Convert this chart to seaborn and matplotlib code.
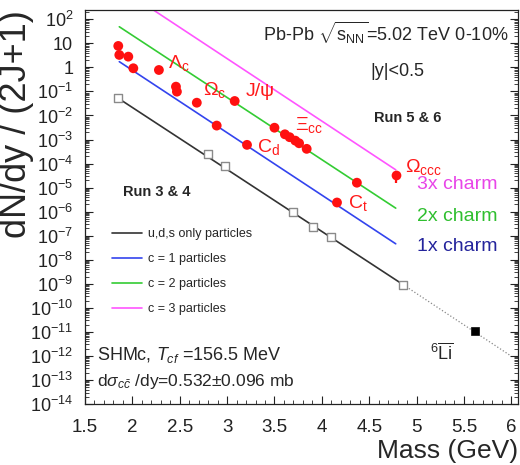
import numpy as np
import pandas as pd
import matplotlib
matplotlib.use("Agg")
import matplotlib.pyplot as plt
from matplotlib.ticker import MultipleLocator, LogLocator, FuncFormatter, NullFormatter
import seaborn as sns

# open-charm / charmonium / multi-charm hadrons (red dots)
charm_mass = [1.851, 1.862, 1.957, 2.01, 2.28, 2.46, 2.47, 2.68, 2.89, 3.08,
              3.21, 3.50, 3.61, 3.66, 3.72, 3.76, 3.84, 4.16, 4.37]
charm_yield = [7.8, 3.3, 2.8, 0.92, 0.78, 0.158, 0.098, 0.034, 0.0038, 0.040,
               6.0e-4, 3.1e-3, 1.65e-3, 1.25e-3, 9.0e-4, 7.0e-4, 4.1e-4, 2.4e-6, 1.6e-5]

# Omega_ccc with its error bar
occc_mass = [4.78]
occc_yield = [3.4e-5]
occc_err_lo = [1.9e-5]
occc_err_hi = [0.6e-5]

# light-flavour (u,d,s) nuclei, open squares
light_mass = [1.851, 2.80, 2.98, 3.70, 3.91, 4.10, 4.86]
light_yield = [0.052, 2.5e-4, 7.9e-5, 1.0e-6, 2.4e-7, 8.9e-8, 9.1e-10]

# anti-6Li, filled square
li6_mass = [5.62]
li6_yield = [1.05e-11]

# model lines (end points)
uds_mass = [1.851, 4.86]
uds_yield = [0.052, 9.1e-10]
uds_ext_mass = [4.86, 5.98]
uds_ext_yield = [9.1e-10, 1.1e-12]
c1_mass = [1.862, 4.78]
c1_yield = [1.73, 4.6e-8]
c2_mass = [1.862, 4.78]
c2_yield = [49.0, 1.4e-6]
c3_mass = [1.862, 4.78]
c3_yield = [2100.0, 5.5e-5]

sns.set_theme(style="ticks")
plt.rcParams['font.family'] = ['Liberation Sans', 'DejaVu Sans']
plt.rcParams['mathtext.fontset'] = 'custom'
plt.rcParams['mathtext.rm'] = 'Liberation Sans'
plt.rcParams['mathtext.it'] = 'Liberation Sans:italic'
plt.rcParams['mathtext.bf'] = 'Liberation Sans:bold'

fig, ax = plt.subplots(figsize=(5.2, 4.65), dpi=100)
fig.subplots_adjust(left=0.1635, right=0.996, bottom=0.1312, top=0.9785)
ax.set_yscale('log')

sns.lineplot(x=uds_mass, y=uds_yield, ax=ax, color='#333333', lw=1.2, label='u,d,s only particles')
sns.lineplot(x=c1_mass, y=c1_yield, ax=ax, color='#3344ee', lw=1.2, label='c = 1 particles')
sns.lineplot(x=c2_mass, y=c2_yield, ax=ax, color='#33cc33', lw=1.2, label='c = 2 particles')
sns.lineplot(x=c3_mass, y=c3_yield, ax=ax, color='#ff55ff', lw=1.2, label='c = 3 particles')
sns.lineplot(x=uds_ext_mass, y=uds_ext_yield, ax=ax, color='#888888', lw=0.9,
             linestyle=':', legend=False)

sns.scatterplot(x=light_mass, y=light_yield, ax=ax, marker='s', s=34, facecolor='white',
                edgecolor='#8a8a8a', linewidth=1.0, zorder=4, legend=False)
sns.scatterplot(x=li6_mass, y=li6_yield, ax=ax, marker='s', s=34, color='black',
                edgecolor='black', zorder=4, legend=False)
sns.scatterplot(x=charm_mass, y=charm_yield, ax=ax, s=50, color='#ff1010',
                edgecolor='none', zorder=5, legend=False)
ax.errorbar(occc_mass, occc_yield, yerr=[occc_err_lo, occc_err_hi], fmt='o', ms=7.0,
            color='#ff1010', mec='none', elinewidth=1.6, capsize=0, zorder=5)

ax.set_xlim(1.5, 6.07)
ax.set_ylim(1e-14, 244)
ax.xaxis.set_major_locator(MultipleLocator(0.5))
ax.xaxis.set_minor_locator(MultipleLocator(0.1))
ax.xaxis.set_major_formatter(FuncFormatter(lambda v, p: '%g' % v))
ax.yaxis.set_major_locator(LogLocator(base=10, numticks=40))
ax.yaxis.set_minor_locator(LogLocator(base=10, subs=np.arange(2, 10), numticks=40))
ax.yaxis.set_minor_formatter(NullFormatter())


def ylab(v, p):
    n = int(round(np.log10(v)))
    if n == 0:
        return '1'
    if n == 1:
        return '10'
    return r'$10^{%d}$' % n


ax.yaxis.set_major_formatter(FuncFormatter(ylab))
ax.tick_params(which='both', direction='in', right=True, top=False, colors='#222222')
ax.tick_params(which='major', length=6, width=0.8, labelsize=13.5, pad=6)
ax.tick_params(axis='y', which='major', labelsize=13, pad=8.5)
ax.tick_params(axis='x', which='major', pad=10.5)
ax.tick_params(which='minor', length=3, width=0.6)
for s in ax.spines.values():
    s.set_linewidth(0.9)
    s.set_color('#222222')

ax.set_xlabel('Mass (GeV)', fontsize=19, loc='right')
ax.xaxis.set_label_coords(1.0, -0.088)
ax.set_ylabel('dN/dy / (2J+1)', fontsize=26, loc='top')
ax.yaxis.set_label_coords(-0.118, 1.0)

ax.legend(loc='upper left', bbox_to_anchor=(0.062, 0.447), frameon=False, fontsize=9,
          handlelength=2.4, labelspacing=1.05, handletextpad=0.5,
          borderaxespad=0, borderpad=0)

tr = ax.transAxes
ax.text(0.411, 0.942, r'Pb-Pb $\sqrt{\mathrm{s}_{\rm NN}}$=5.02 TeV 0-10%', transform=tr,
        fontsize=13, ha='left', va='center')
ax.text(0.721, 0.843, '|y|<0.5', transform=tr, fontsize=13, ha='center', va='center')
ax.text(0.746, 0.726, 'Run 5 & 6', transform=tr, fontsize=10.5, fontweight='bold',
        ha='center', va='center')
ax.text(0.088, 0.538, 'Run 3 & 4', transform=tr, fontsize=10.5, fontweight='bold',
        ha='left', va='center')
ax.text(0.861, 0.556, '3x charm', transform=tr, fontsize=14, color='#e845e8',
        ha='center', va='center')
ax.text(0.861, 0.475, '2x charm', transform=tr, fontsize=14, color='#2fbf2f',
        ha='center', va='center')
ax.text(0.861, 0.400, '1x charm', transform=tr, fontsize=14, color='#24249c',
        ha='center', va='center')
ax.text(0.028, 0.124, r'SHMc, $T_{cf}$ =156.5 MeV', transform=tr, fontsize=13,
        ha='left', va='center')
ax.text(0.028, 0.056, r'd$\sigma_{c\bar{c}}$ /dy=0.532$\pm$0.096 mb', transform=tr,
        fontsize=12.5, ha='left', va='center')
ax.text(0.797, 0.13, r'$^{6}\overline{\rm Li}$', transform=tr, fontsize=13,
        ha='left', va='center')

red = '#ff1a1a'
ax.text(0.192, 0.865, r'$\Lambda_{\rm c}$', transform=tr, fontsize=14, color=red, va='center')
ax.text(0.273, 0.797, r'$\Omega_{\rm c}$', transform=tr, fontsize=14, color=red, va='center')
ax.text(0.370, 0.792, 'J/ψ', transform=tr, fontsize=14, color=red, va='center')
ax.text(0.485, 0.708, r'$\Xi_{\rm cc}$', transform=tr, fontsize=14, color=red, va='center')
ax.text(0.397, 0.652, r'C$_{\rm d}$', transform=tr, fontsize=14, color=red, va='center')
ax.text(0.607, 0.510, r'C$_{\rm t}$', transform=tr, fontsize=14, color=red, va='center')
ax.text(0.739, 0.601, r'$\Omega_{\rm ccc}$', transform=tr, fontsize=14, color=red, va='center')

fig.savefig('out.png', dpi=100)
